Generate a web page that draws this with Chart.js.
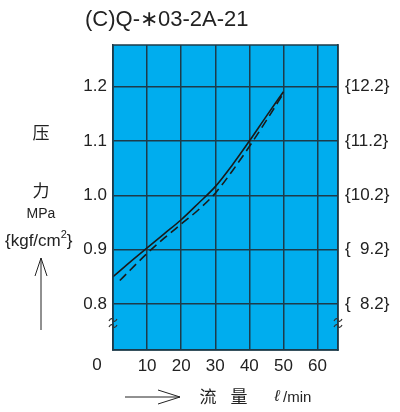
<!DOCTYPE html>
<html>
<head>
<meta charset="utf-8">
<script src="https://cdn.jsdelivr.net/npm/chart.js@4"></script>
<style>
  html, body { margin: 0; padding: 0; background: #fff; }
  #wrap { width: 400px; height: 412px; }
</style>
</head>
<body>
<div id="wrap"><canvas id="chart" width="400" height="412"></canvas></div>
<script>
// flow (l/min) and pressure (MPa)
const flowSolid = [0, 5, 10, 15, 20, 25, 30, 35, 40, 45, 50];
const pressSolid = [0.85, 0.877, 0.903, 0.929, 0.955, 0.985, 1.016, 1.056, 1.100, 1.146, 1.191];
const flowDashed = [2, 5, 10, 15, 20, 25, 30, 35, 40, 45, 50];
const pressDashed = [0.843, 0.862, 0.893, 0.921, 0.947, 0.973, 1.004, 1.045, 1.090, 1.138, 1.188];

const xTicks = [10, 20, 30, 40, 50, 60];
const yTicks = [0.8, 0.9, 1.0, 1.1, 1.2];
const kgfLabels = ['{  8.2}', '{  9.2}', '{10.2}', '{11.2}', '{12.2}'];

const FONT = '"Liberation Sans", Arial, sans-serif';
const CJK = '"Noto Sans CJK SC", sans-serif';
const GRID = '#1d3b4a';

function toPoints(xs, ys) {
    return xs.map((x, i) => ({ x: x, y: ys[i] }));
}

// little "two tildes" break mark on the frame
function breakMark(ctx, x, y) {
    ctx.beginPath();
    for (let k = 0; k < 2; k++) {
        const yy = y + k * 6;
        ctx.moveTo(x - 4, yy + 1);
        ctx.bezierCurveTo(x - 2, yy - 3, x, yy - 1, x, yy);
        ctx.bezierCurveTo(x, yy + 1, x + 2, yy + 3, x + 4, yy - 1);
    }
    ctx.stroke();
}

// background, frame and all the extra labels around the plot
const decor = {
    id: 'decor',
    beforeDraw(chart) {
        const a = chart.chartArea;
        const ctx = chart.ctx;
        ctx.save();
        ctx.fillStyle = '#00adee';
        ctx.fillRect(a.left, a.top, a.right - a.left, a.bottom - a.top);
        ctx.restore();
    },
    afterDraw(chart) {
        const a = chart.chartArea;
        const ctx = chart.ctx;
        const xs = chart.scales.x;
        ctx.save();
        ctx.strokeStyle = GRID;
        ctx.lineWidth = 1.5;
        ctx.strokeRect(a.left, a.top, a.right - a.left, a.bottom - a.top);

        ctx.fillStyle = '#222';
        // title
        ctx.font = '22px ' + FONT;
        ctx.textAlign = 'left';
        ctx.textBaseline = 'middle';
        ctx.fillText('(C)Q-\u221703-2A-21', 85, 20);

        // lone "0" on the x axis
        ctx.font = '17px ' + FONT;
        ctx.textAlign = 'center';
        ctx.fillText('0', xs.getPixelForValue(0) - 16, 365);

        // axis break marks
        ctx.strokeStyle = '#333';
        ctx.lineWidth = 1.2;
        breakMark(ctx, a.left, 320);
        breakMark(ctx, a.right, 320);

        // left axis title
        ctx.fillStyle = '#222';
        ctx.font = '17px ' + CJK;
        ctx.fillText('\u538b', 41, 133);
        ctx.fillText('\u529b', 41, 191);
        ctx.font = '14px ' + FONT;
        ctx.fillText('MPa', 41, 214);
        ctx.font = '17px ' + FONT;
        ctx.textAlign = 'left';
        ctx.fillText('{kgf/cm', 5, 241);
        let w = ctx.measureText('{kgf/cm').width;
        ctx.font = '11px ' + FONT;
        ctx.fillText('2', 5 + w, 235);
        let w2 = ctx.measureText('2').width;
        ctx.font = '17px ' + FONT;
        ctx.fillText('}', 5 + w + w2, 241);

        // up arrow
        ctx.strokeStyle = '#222';
        ctx.lineWidth = 1;
        ctx.beginPath();
        ctx.moveTo(41, 330);
        ctx.lineTo(41, 258);
        ctx.moveTo(35, 276);
        ctx.lineTo(41, 258);
        ctx.lineTo(47, 276);
        ctx.stroke();

        // right arrow and x axis title
        ctx.beginPath();
        ctx.moveTo(125, 397);
        ctx.lineTo(180, 397);
        ctx.moveTo(158, 390);
        ctx.lineTo(180, 397);
        ctx.lineTo(158, 404);
        ctx.stroke();
        ctx.font = '17px ' + CJK;
        ctx.textAlign = 'center';
        ctx.fillText('\u6d41', 208, 397);
        ctx.fillText('\u91cf', 239, 397);
        ctx.font = 'italic 16px ' + FONT;
        ctx.fillText('\u2113', 277, 397);
        ctx.font = '15px ' + FONT;
        ctx.textAlign = 'left';
        ctx.fillText('/min', 283, 398);
        ctx.restore();
    }
};

new Chart(document.getElementById('chart').getContext('2d'), {
    type: 'line',
    data: {
        datasets: [
            {
                data: toPoints(flowSolid, pressSolid),
                borderColor: '#1a1a1a',
                borderWidth: 1.6,
                pointRadius: 0,
                cubicInterpolationMode: 'monotone',
                fill: false
            },
            {
                data: toPoints(flowDashed, pressDashed),
                borderColor: '#1a1a1a',
                borderWidth: 1.6,
                borderDash: [9, 5],
                pointRadius: 0,
                cubicInterpolationMode: 'monotone',
                fill: false
            }
        ]
    },
    options: {
        responsive: false,
        animation: false,
        layout: { padding: { top: 45, left: 0, right: 0, bottom: 0 } },
        plugins: {
            legend: { display: false },
            tooltip: { enabled: false }
        },
        scales: {
            x: {
                type: 'linear',
                min: 0,
                max: 66,
                afterBuildTicks: s => { s.ticks = xTicks.map(v => ({ value: v })); },
                afterFit: s => { s.height = 62; },
                grid: { color: GRID, lineWidth: 1.5, drawTicks: false },
                border: { color: GRID, width: 1.5 },
                ticks: { color: '#222', font: { family: FONT, size: 17 }, padding: 6 }
            },
            y: {
                min: 0.715,
                max: 1.277,
                afterBuildTicks: s => { s.ticks = yTicks.map(v => ({ value: v })); },
                afterFit: s => { s.width = 113; },
                grid: { color: GRID, lineWidth: 1.5, drawTicks: false },
                border: { color: GRID, width: 1.5 },
                ticks: {
                    color: '#222',
                    font: { family: FONT, size: 17 },
                    padding: 6,
                    callback: v => v.toFixed(1)
                }
            },
            y2: {
                position: 'right',
                min: 0.715,
                max: 1.277,
                afterBuildTicks: s => { s.ticks = yTicks.map(v => ({ value: v })); },
                afterFit: s => { s.width = 62; },
                grid: { drawOnChartArea: false, drawTicks: false },
                border: { color: GRID, width: 1.5 },
                ticks: {
                    color: '#222',
                    font: { family: FONT, size: 17 },
                    padding: 7,
                    callback: (v, i) => kgfLabels[i]
                }
            }
        }
    },
    plugins: [decor]
});
</script>
</body>
</html>
